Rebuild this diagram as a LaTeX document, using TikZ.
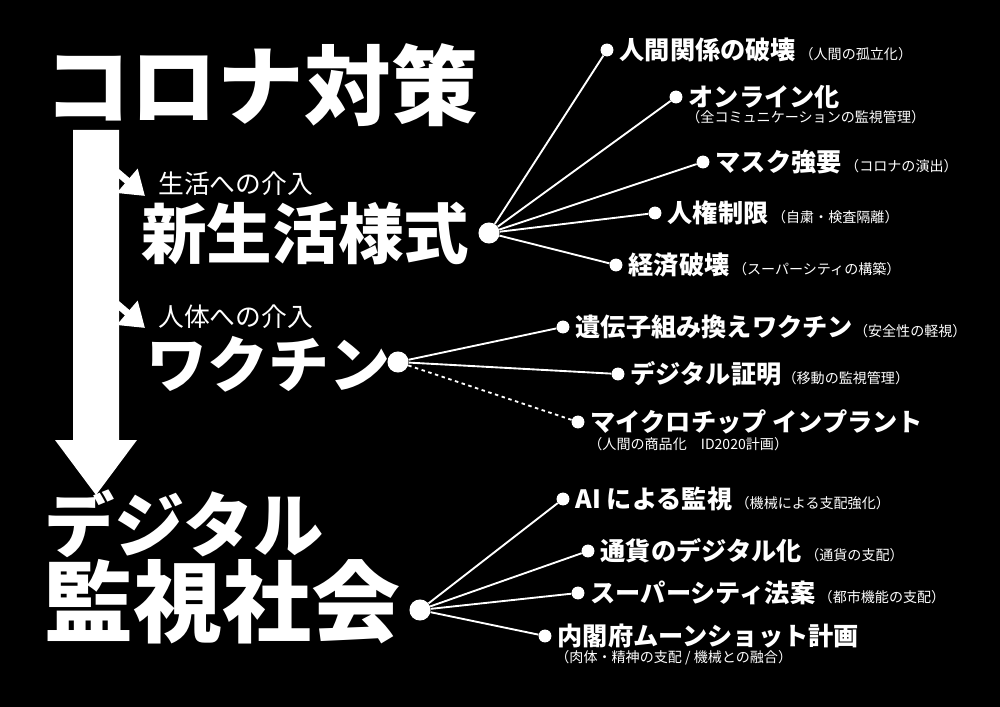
\documentclass[tikz,border=0pt]{standalone}
\usepackage{fontspec}
\setmainfont{Noto Sans CJK JP}
\newfontfamily\heavy{Noto Sans CJK JP Black}
\usetikzlibrary{arrows.meta,positioning}

\begin{document}
\begin{tikzpicture}[x=0.03cm, y=-0.03cm,
    every node/.style={text=white, inner sep=0pt},
    hubdot/.style={circle, fill=white, inner sep=0pt},
    enddot/.style={circle, fill=white, inner sep=0pt},
    spoke/.style={white, line width=1.6pt},
    item/.style={anchor=west, font=\fontsize{21.5}{23}\selectfont\bfseries},
    note/.style={font=\fontsize{12}{14}\selectfont},
    big/.style={font=\heavy\fontsize{#1}{#1}\selectfont}]

  % ---- Background ----
  \fill[black] (0,0) rectangle (1000,707);

  % ---- Main arrow ----
  \fill[white] (73,130) -- (119,130) -- (119,440) -- (137,440) -- (96,495)
    -- (55,440) -- (73,440) -- cycle;
  \coordinate (s1) at (103,160);
  \coordinate (e1) at (145,196);
  \coordinate (s2) at (103,292);
  \coordinate (e2) at (145,328);
  \draw[white, line width=6pt, -{Triangle[length=20pt,width=26pt]}] (s1) -- (e1);
  \draw[white, line width=6pt, -{Triangle[length=20pt,width=26pt]}] (s2) -- (e2);

  % ---- Headings ----
  \node[big=74, anchor=west] (corona) at (44,85) {コロナ対策};
  \node[anchor=west, font=\fontsize{22}{22}\selectfont] (seikatsu) at (158,184) {生活への介入};
  \node[big=56, anchor=west] (shinseikatsu) at (141,234) {新生活様式};
  \node[anchor=west, font=\fontsize{22}{22}\selectfont] (jintai) at (158,317) {人体への介入};
  \node[big=52, anchor=west] (vaccine) at (146,364) {ワクチン};
  \node[big=60, anchor=west] (digital) at (44,524) {デジタル};
  \node[big=76, anchor=west] (kanshi) at (44,602) {監視社会};

  % ---- Hubs ----
  \node[hubdot, minimum size=18pt] (h1) at (489,233) {};
  \node[hubdot, minimum size=18pt] (h2) at (398,362) {};
  \node[hubdot, minimum size=18pt] (h3) at (420,610) {};

  % ---- Branch dots ----
  \foreach \n/\x/\y in {a1/607/50, a2/676/97, a3/703/162, a4/655/213, a5/616/265,
                        b1/563/327, b2/618/374, b3/578/422,
                        c1/563/499, c2/588/551, c3/578/593, c4/545/636}
    \node[enddot, minimum size=11pt] (\n) at (\x,\y) {};

  \foreach \n in {a1,a2,a3,a4,a5} \draw[spoke] (h1) -- (\n);
  \foreach \n in {b1,b2} \draw[spoke] (h2) -- (\n);
  \draw[spoke, dashed] (h2) -- (b3);
  \foreach \n in {c1,c2,c3,c4} \draw[spoke] (h3) -- (\n);

  % ---- Labels ----
  \node[item] at ([xshift=5pt]a1.east) {人間関係の破壊\hspace{3pt}{\mdseries\fontsize{12}{14}\selectfont（人間の孤立化）}};
  \node[item] (l2) at ([xshift=5pt]a2.east) {オンライン化};
  \node[note, anchor=north west] at ([xshift=-2pt,yshift=-1pt]l2.south west) {（全コミュニケーションの監視管理）};
  \node[item] at ([xshift=5pt]a3.east) {マスク強要\hspace{3pt}{\mdseries\fontsize{12}{14}\selectfont（コロナの演出）}};
  \node[item] at ([xshift=5pt]a4.east) {人権制限\hspace{3pt}{\mdseries\fontsize{12}{14}\selectfont（自粛・検査隔離）}};
  \node[item] at ([xshift=5pt]a5.east) {経済破壊\hspace{3pt}{\mdseries\fontsize{12}{14}\selectfont（スーパーシティの構築）}};

  \node[item] at ([xshift=5pt]b1.east) {遺伝子組み換えワクチン\hspace{1pt}{\mdseries\fontsize{12}{14}\selectfont（安全性の軽視）}};
  \node[item] at ([xshift=5pt]b2.east) {デジタル証明\hspace{1pt}{\mdseries\fontsize{12}{14}\selectfont（移動の監視管理）}};
  \node[item] (l8) at ([xshift=5pt]b3.east) {マイクロチップ インプラント};
  \node[note, anchor=north west] at ([xshift=-2pt,yshift=-2pt]l8.south west) {（人間の商品化　ID2020計画）};

  \node[item] at ([xshift=5pt]c1.east) {AI による監視\hspace{3pt}{\mdseries\fontsize{12}{14}\selectfont（機械による支配強化）}};
  \node[item] at ([xshift=5pt]c2.east) {通貨のデジタル化\hspace{3pt}{\mdseries\fontsize{12}{14}\selectfont（通貨の支配）}};
  \node[item] at ([xshift=5pt]c3.east) {スーパーシティ法案\hspace{3pt}{\mdseries\fontsize{12}{14}\selectfont（都市機能の支配）}};
  \node[item] (l12) at ([xshift=5pt]c4.east) {内閣府ムーンショット計画};
  \node[note, anchor=north west] at ([xshift=-2pt,yshift=-2pt]l12.south west) {（肉体・精神の支配 / 機械との融合）};

\end{tikzpicture}
\end{document}
